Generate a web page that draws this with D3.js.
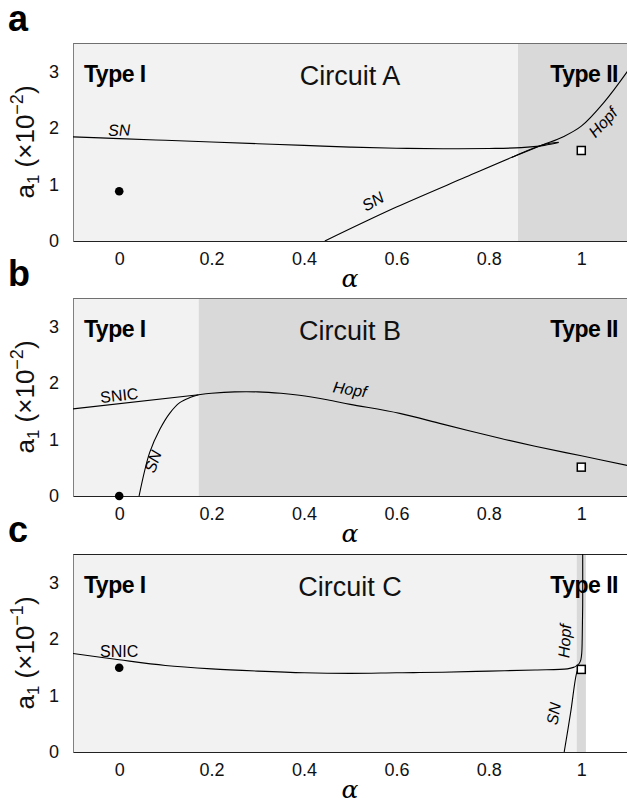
<!DOCTYPE html>
<html>
<head>
<meta charset="utf-8">
<script src="https://cdn.jsdelivr.net/npm/d3@7"></script>
<style>
  body { margin: 0; background: #fff; }
  svg { display: block; }
</style>
</head>
<body>
<script>
// ---- axis ticks and labels ----
const alphaTicks = [0, 0.2, 0.4, 0.6, 0.8, 1];
const alphaTickLabels = ["0", "0.2", "0.4", "0.6", "0.8", "1"];
const a1Ticks = [0, 1, 2, 3];
const panelLetters = ["a", "b", "c"];
const circuitNames = ["Circuit A", "Circuit B", "Circuit C"];
const a1Exponents = ["−2", "−2", "−1"];

// ---- shaded regions: [alpha from, alpha to, shade] ----
const regionsA = [[-0.1, 0.863, "light"], [0.863, 1.1, "dark"]];
const regionsB = [[-0.1, 0.172, "light"], [0.172, 1.1, "dark"]];
const regionsC = [[-0.1, 0.99, "light"], [0.99, 1.01, "dark"]];

// ---- bifurcation curves: [alpha, a1] ----
// Circuit A
const snUpperA = [[-0.1, 1.84], [0.0, 1.81], [0.1, 1.78], [0.2, 1.75], [0.3, 1.72], [0.4, 1.69],
  [0.5, 1.66], [0.6, 1.64], [0.7, 1.63], [0.8, 1.635], [0.87, 1.65], [0.92, 1.69], [0.951, 1.74]];
const snLowerA = [[0.445, 0.0], [0.6, 0.60], [0.75, 1.13], [0.85, 1.48], [0.917, 1.70], [0.951, 1.745]];
const hopfA = [[0.85, 1.48], [0.917, 1.70], [0.96, 1.84], [1.0, 2.03], [1.05, 2.46], [1.1, 3.0]];
// Circuit B
const snicB = [[-0.1, 1.54], [0.172, 1.79]];
const snB = [[0.043, 0.0], [0.066, 0.77], [0.088, 1.18], [0.11, 1.47], [0.131, 1.65],
  [0.153, 1.74], [0.172, 1.79]];
const hopfB = [[0.172, 1.79], [0.2, 1.815], [0.25, 1.84], [0.3, 1.84], [0.35, 1.815], [0.39, 1.78],
  [0.45, 1.70], [0.5, 1.62], [0.607, 1.46], [0.7, 1.27], [0.824, 1.02], [0.9, 0.88], [1.0, 0.71], [1.1, 0.54]];
// Circuit C
const snicC = [[-0.1, 1.74], [0.0, 1.63], [0.1, 1.53], [0.2, 1.47], [0.3, 1.43], [0.4, 1.40],
  [0.5, 1.39], [0.6, 1.40], [0.7, 1.41], [0.8, 1.43], [0.9, 1.45], [0.97, 1.47], [0.985, 1.50]];
const hopfC = [[0.985, 1.50], [0.995, 1.56], [0.999, 1.63], [1.001, 1.75], [1.002, 2.0], [1.003, 2.6], [1.003, 3.5]];
const snC = [[0.963, 0.0], [0.977, 0.70], [0.99, 1.40], [0.994, 1.47]];

// ---- curve labels: [text, alpha, a1, angle, italic] ----
const labelsA = [["SN", 0.0, 1.96, -2, true], ["SN", 0.549, 0.70, -30, true], ["Hopf", 1.047, 2.10, -47, true]];
const labelsB = [["SNIC", 0.0, 1.78, -6, false], ["SN", 0.073, 0.61, -70, true], ["Hopf", 0.499, 1.885, 9, true]];
const labelsC = [["SNIC", 0.0, 1.78, 0, false], ["Hopf", 0.964, 1.96, -87, true], ["SN", 0.94, 0.68, -80, true]];

// ---- operating points: resting (filled circle) and Hopf case (open square) ----
const restA = [0, 0.88], squareA = [1, 1.60];
const restB = [0, 0.0], squareB = [1, 0.51];
const restC = [0, 1.49], squareC = [1, 1.46];

const panels = [
  { regions: regionsA, curves: [snUpperA, snLowerA, hopfA], labels: labelsA, rest: restA, square: squareA },
  { regions: regionsB, curves: [snicB, snB, hopfB], labels: labelsB, rest: restB, square: squareB },
  { regions: regionsC, curves: [snicC, hopfC, snC], labels: labelsC, rest: restC, square: squareC }
];

// ---- layout ----
const W = 627, H = 798;
const left = 73, right = 627.5, plotH = 198;
const tops = [43, 298, 554];
const sans = "'Liberation Sans', Arial, Helvetica, sans-serif";
const shadeColor = { light: "#f2f2f2", dark: "#d9d9d9" };

const svg = d3.select("body").append("svg")
  .attr("width", W).attr("height", H)
  .attr("viewBox", `0 0 ${W} ${H}`);

const x = d3.scaleLinear().domain([-0.1, 1.1]).range([left, right]);
const line = d3.line().curve(d3.curveCatmullRom.alpha(0.5));

panels.forEach((p, i) => {
  const top = tops[i], bottom = top + plotH;
  const y = d3.scaleLinear().domain([0, 3.5]).range([bottom, top]);
  const g = svg.append("g");

  const clipId = "clip" + i;
  svg.append("clipPath").attr("id", clipId)
    .append("rect").attr("x", left).attr("y", top).attr("width", right - left).attr("height", plotH);

  // shaded regimes
  g.selectAll("rect.region").data(p.regions).join("rect")
    .attr("class", "region")
    .attr("x", d => x(d[0]))
    .attr("width", d => x(d[1]) - x(d[0]))
    .attr("y", top).attr("height", plotH)
    .attr("fill", d => shadeColor[d[2]]);

  // top frame line
  g.append("line")
    .attr("x1", left).attr("x2", W).attr("y1", top + 0.5).attr("y2", top + 0.5)
    .attr("stroke", i === 2 ? "#222" : "#707070").attr("stroke-width", 1);

  // left axis (frame + tick labels)
  const yAxis = g.append("g").attr("transform", `translate(${left},0)`)
    .call(d3.axisLeft(y).tickValues(a1Ticks).tickSize(0).tickSizeOuter(0).tickPadding(15).tickFormat(d3.format("d")));
  yAxis.select(".domain").attr("stroke", "#808080").attr("stroke-width", 1);
  yAxis.selectAll("text").attr("font-family", sans).attr("font-size", 18).attr("fill", "#111")
    .attr("text-anchor", "middle").attr("x", -19);

  // bottom axis
  const xAxis = g.append("g").attr("transform", `translate(0,${bottom})`)
    .call(d3.axisBottom(x).tickValues(alphaTicks).tickSize(0).tickSizeOuter(0).tickPadding(11)
      .tickFormat((d, k) => alphaTickLabels[k]));
  xAxis.select(".domain").attr("stroke", "#222").attr("stroke-width", 1.2);
  xAxis.selectAll("text").attr("font-family", sans).attr("font-size", 18).attr("fill", "#111");

  // regime titles
  g.append("text").attr("x", 84).attr("y", top + 39)
    .attr("font-family", sans).attr("font-weight", "bold").attr("font-size", 23)
    .attr("letter-spacing", -0.5).attr("fill", "#000").text("Type I");
  g.append("text").attr("x", 350).attr("y", top + 42).attr("text-anchor", "middle")
    .attr("font-family", sans).attr("font-size", 27).attr("fill", "#111").text(circuitNames[i]);
  g.append("text").attr("x", 618).attr("y", top + 39).attr("text-anchor", "end")
    .attr("font-family", sans).attr("font-weight", "bold").attr("font-size", 23)
    .attr("letter-spacing", -0.5).attr("fill", "#000").text("Type II");

  // bifurcation curves
  g.append("g").attr("clip-path", `url(#${clipId})`)
    .selectAll("path").data(p.curves).join("path")
    .attr("d", d => line(d.map(q => [x(q[0]), y(q[1])])))
    .attr("fill", "none").attr("stroke", "#000").attr("stroke-width", 1.1);

  // curve labels
  g.selectAll("text.curve-label").data(p.labels).join("text")
    .attr("class", "curve-label")
    .attr("transform", d => `translate(${x(d[1])},${y(d[2])}) rotate(${d[3]})`)
    .attr("text-anchor", "middle").attr("dy", "0.35em")
    .attr("font-family", sans).attr("font-size", 16)
    .attr("font-style", d => d[4] ? "italic" : "normal")
    .attr("fill", "#000").text(d => d[0]);

  // operating points
  g.append("circle").attr("cx", x(p.rest[0])).attr("cy", y(p.rest[1])).attr("r", 4.3).attr("fill", "#000");
  g.append("rect")
    .attr("x", x(p.square[0]) - 4).attr("y", y(p.square[1]) - 4)
    .attr("width", 8).attr("height", 8)
    .attr("fill", "#fff").attr("stroke", "#000").attr("stroke-width", 1.5);

  // panel letter
  g.append("text").attr("x", 8).attr("y", top - 12)
    .attr("font-family", sans).attr("font-weight", "bold").attr("font-size", 36)
    .attr("fill", "#000").text(panelLetters[i]);

  // x label
  g.append("text").attr("x", 350).attr("y", bottom + 46).attr("text-anchor", "middle")
    .attr("font-family", "'DejaVu Serif', 'Liberation Serif', serif").attr("font-style", "italic")
    .attr("font-size", 25).attr("fill", "#000").text("α");

  // y label
  const yl = g.append("text")
    .attr("transform", `translate(34,${(top + bottom) / 2}) rotate(-90)`)
    .attr("text-anchor", "middle").attr("font-family", sans).attr("font-size", 26).attr("fill", "#111");
  yl.append("tspan").text("a");
  yl.append("tspan").attr("font-size", 17).attr("dy", 5).text("1");
  yl.append("tspan").attr("dy", -5).text(" (×10");
  yl.append("tspan").attr("font-size", 18).attr("dy", -11).text(a1Exponents[i]);
  yl.append("tspan").attr("dy", 11).text(")");
});
</script>
</body>
</html>
